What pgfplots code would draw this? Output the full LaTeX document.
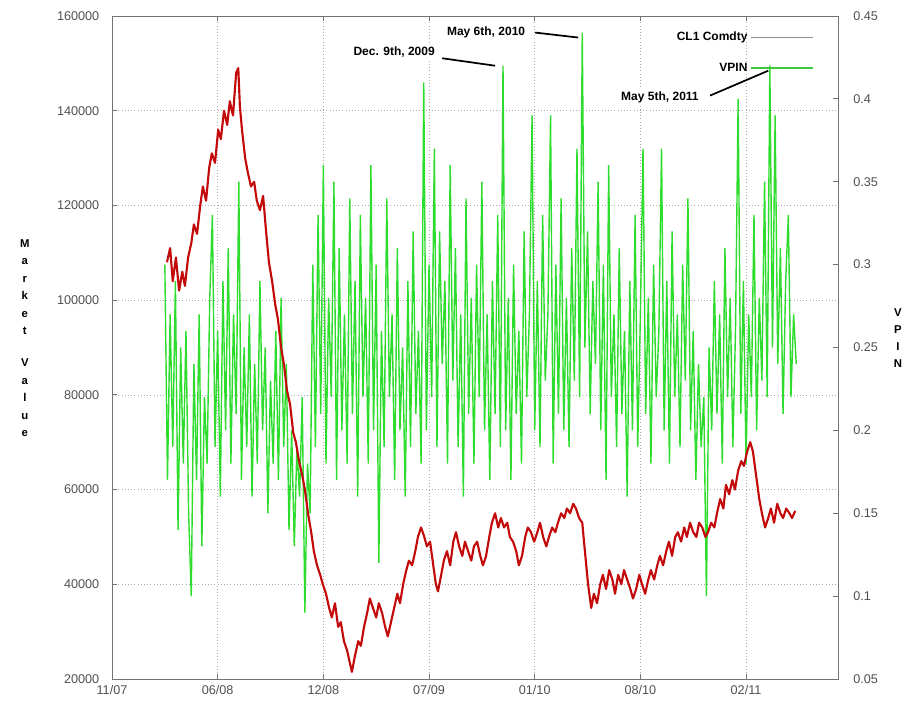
\documentclass[border=0pt]{standalone}
\usepackage{pgfplots}
\pgfplotsset{compat=1.18}
\usepackage{fontspec}
\setmainfont{Liberation Sans}
\definecolor{vpin}{RGB}{45,220,45}
\definecolor{cl}{RGB}{195,10,10}
\definecolor{tk}{RGB}{80,80,80}
\definecolor{gridc}{RGB}{170,170,170}
\begin{document}
\begin{tikzpicture}
\path[use as bounding box] (-84pt,-21.75pt) rectangle (602.25pt,509.25pt);
% ---------- axis A: frame, grid, left axis ----------
\begin{axis}[
  at={(0,0)}, anchor=south west, scale only axis,
  width=544.5pt, height=497.25pt,
  xmin=0, xmax=1374, ymin=20000, ymax=160000,
  xtick={0,200,400,600,800,1000,1200},
  xticklabels={11/07,06/08,12/08,07/09,01/10,08/10,02/11},
  ytick={20000,40000,60000,80000,100000,120000,140000,160000},
  scaled y ticks=false,
  yticklabels={20000,40000,60000,80000,100000,120000,140000,160000},
  ytick pos=left, xtick pos=both,
  tick align=inside, major tick length=4pt,
  grid=major, grid style={gridc, dotted, line width=0.5pt},
  axis line style={black!55, line width=0.6pt},
  tick style={black!55, line width=0.6pt},
  /pgf/number format/assume math mode=true,
  ticklabel style={font=\fontsize{9.5}{11}\selectfont, text=tk},
  yticklabel style={xshift=-6pt},
  xticklabel style={yshift=-1pt},
  ylabel={M\\a\\r\\k\\e\\t\\[11pt]V\\a\\l\\u\\e},
  every axis y label/.style={at={(axis description cs:-0.12,0.514)}, anchor=center, align=center, font=\bfseries\fontsize{8.5}{13.1}\selectfont},
]
\end{axis}
% ---------- axis B: VPIN, right axis ----------
\begin{axis}[
  at={(0,0)}, anchor=south west, scale only axis,
  width=544.5pt, height=497.25pt,
  xmin=0, xmax=1374, ymin=0.05, ymax=0.45,
  axis x line=none, axis y line*=right,
  ytick={0.05,0.1,0.15,0.2,0.25,0.3,0.35,0.4,0.45},
  yticklabels={0.05,0.1,0.15,0.2,0.25,0.3,0.35,0.4,0.45},
  tick align=inside, major tick length=4pt,
  axis line style={black!55, line width=0.6pt},
  tick style={black!55, line width=0.6pt},
  ticklabel style={font=\fontsize{9.5}{11}\selectfont, text=tk},
  yticklabel style={xshift=8pt},
  ylabel={V\\P\\I\\N},
  every axis y label/.style={at={(axis description cs:1.0826,0.514)}, anchor=center, align=center, font=\bfseries\fontsize{8.5}{12.75}\selectfont},
]
\addplot[vpin, line width=1.05pt, line join=bevel] coordinates {
(100,0.30)(105,0.17)(110,0.27)(115,0.19)(120,0.29)(125,0.14)(130,0.25)(135,0.18)(140,0.26)(145,0.15)(150,0.10)
(155,0.24)(160,0.17)(165,0.27)(170,0.13)(175,0.22)(180,0.18)(185,0.28)(190,0.33)(195,0.19)(200,0.26)
(205,0.16)(210,0.29)(215,0.20)(220,0.31)(225,0.18)(230,0.27)(235,0.21)(240,0.35)(245,0.17)(250,0.25)
(255,0.19)(260,0.27)(265,0.16)(270,0.24)(275,0.18)(280,0.29)(285,0.20)(290,0.25)(295,0.15)(300,0.23)
(305,0.18)(310,0.26)(315,0.17)(320,0.28)(325,0.19)(330,0.24)(335,0.14)
(340,0.20)(345,0.13)(350,0.19)(355,0.16)(360,0.22)(365,0.09)(370,0.18)(375,0.15)
(380,0.30)(385,0.19)(390,0.33)(395,0.21)(400,0.36)(405,0.18)(410,0.28)(415,0.22)(420,0.35)(425,0.17)
(430,0.31)(435,0.20)(440,0.27)(445,0.18)(450,0.34)(455,0.21)(460,0.29)(465,0.16)(470,0.33)(475,0.22)
(480,0.28)(485,0.18)(490,0.36)(495,0.20)(500,0.30)(505,0.12)(510,0.26)(515,0.19)(520,0.34)(525,0.22)
(530,0.27)(535,0.17)(540,0.31)(545,0.20)(550,0.25)(555,0.16)(560,0.29)(565,0.19)(570,0.32)(575,0.21)
(580,0.26)(585,0.18)(590,0.41)(595,0.20)(600,0.30)(605,0.22)(610,0.37)(615,0.19)(620,0.32)(625,0.24)
(630,0.29)(635,0.18)(640,0.36)(645,0.23)(650,0.31)(655,0.19)(660,0.27)(665,0.16)(670,0.34)(675,0.21)
(680,0.28)(685,0.18)(690,0.30)(695,0.22)(700,0.35)(705,0.20)(710,0.27)(715,0.17)(720,0.29)(725,0.21)
(730,0.33)(735,0.19)(740,0.42)(745,0.20)(750,0.28)(755,0.17)(760,0.30)(765,0.21)(770,0.26)(775,0.18)
(780,0.32)(785,0.22)(790,0.27)(795,0.39)(800,0.20)(805,0.29)(810,0.19)(815,0.33)(820,0.23)(825,0.27)
(830,0.39)(835,0.18)(840,0.30)(845,0.21)(850,0.34)(855,0.20)(860,0.28)(865,0.19)(870,0.31)(875,0.23)
(880,0.37)(885,0.22)(890,0.44)(895,0.25)(900,0.32)(905,0.21)(910,0.29)(915,0.24)(920,0.35)(925,0.20)
(930,0.30)(935,0.17)(940,0.36)(945,0.22)(950,0.27)(955,0.19)(960,0.31)(965,0.21)(970,0.26)(975,0.16)
(980,0.29)(985,0.20)(990,0.33)(995,0.19)(1000,0.27)(1005,0.37)(1010,0.21)(1015,0.28)(1020,0.18)(1025,0.30)
(1030,0.22)(1035,0.26)(1040,0.37)(1045,0.20)(1050,0.29)(1055,0.18)(1060,0.32)(1065,0.22)(1070,0.27)(1075,0.19)
(1080,0.30)(1085,0.23)(1090,0.34)(1095,0.20)(1100,0.26)(1105,0.17)(1110,0.24)(1115,0.19)(1120,0.22)(1125,0.10)
(1130,0.25)(1135,0.20)(1140,0.29)(1145,0.21)(1150,0.27)(1155,0.18)(1160,0.31)(1165,0.22)(1170,0.28)(1175,0.19)
(1180,0.26)(1185,0.40)(1190,0.21)(1195,0.29)(1200,0.18)(1205,0.27)(1210,0.22)(1215,0.33)(1220,0.20)(1225,0.28)
(1230,0.23)(1235,0.35)(1240,0.22)(1245,0.42)(1250,0.25)(1255,0.39)(1260,0.24)(1265,0.31)(1270,0.21)(1275,0.29)
(1280,0.33)(1285,0.22)(1290,0.27)(1295,0.24)
};
% annotations
\tikzset{ann/.style={font=\bfseries\fontsize{9}{10}\selectfont, fill=white, inner sep=1.5pt}}
\node[ann] at (axis cs:534,0.428) {Dec. 9th, 2009};
\draw[black, line width=1.3pt] (axis cs:625,0.4245) -- (axis cs:725,0.420);
\node[ann] at (axis cs:708,0.440) {May 6th, 2010};
\draw[black, line width=1.3pt] (axis cs:801,0.440) -- (axis cs:882,0.437);
\node[ann] at (axis cs:1037,0.401) {May 5th, 2011};
\draw[black, line width=1.3pt] (axis cs:1132,0.402) -- (axis cs:1242,0.417);
\end{axis}
% ---------- axis C: CL1 Comdty on top ----------
\begin{axis}[
  at={(0,0)}, anchor=south west, scale only axis,
  width=544.5pt, height=497.25pt,
  xmin=0, xmax=1374, ymin=20000, ymax=160000,
  axis lines=none,
  legend plot pos=right,
  legend image code/.code={\draw[#1] (0pt,0pt) -- (47pt,0pt);},
  legend style={at={(rel axis cs:0.969,0.982)}, anchor=north east, draw=none, fill=none,
    font=\bfseries\fontsize{9}{10}\selectfont, row sep=11pt, inner sep=1pt,
    cells={anchor=east}},
]
\addplot[cl, line width=1.6pt, line join=round, forget plot] coordinates {
(104,108000)(110,111000)(115,104000)(121,109000)(127,102000)(133,106000)(138,103000)(144,109000)(150,112000)(155,116000)
(161,114000)(167,120000)(172,124000)(178,121000)(184,128000)(189,131000)(195,129000)(201,136000)(206,134000)(212,140000)
(218,137000)(223,142000)(229,139000)(235,148000)(239,149000)(242,141000)(246,136000)(252,130000)(257,127000)(263,124000)
(269,125000)(274,121000)(280,119000)(286,122000)(292,114000)(297,108000)(303,104000)(309,99000)(314,96000)(320,90000)
(326,86000)(331,81000)(337,78000)(343,72000)(348,70000)(354,66000)(360,63000)(365,60000)(371,55000)(377,51000)
(382,47000)(388,44000)(394,42000)(399,40000)(405,38000)(411,35000)(416,33000)(422,36000)(428,31000)(433,32000)
(439,28000)(445,26000)(451,23000)(454,21500)(460,25000)(466,28000)(471,27000)(477,31000)(483,34000)(488,37000)
(494,35000)(500,33000)(505,36000)(511,34000)(517,31000)(522,29000)(528,32000)(534,35000)(540,38000)(545,36000)
(551,40000)(557,43000)(562,45000)(568,44000)(574,47000)(579,50000)(585,52000)(591,50000)(596,48000)(602,49000)
(608,44000)(613,40000)(617,38500)(623,42000)(628,45000)(634,47000)(640,44000)(646,49000)(651,51000)(657,48000)
(663,46000)(668,49000)(674,47000)(680,45000)(685,48000)(691,49000)(697,46000)(702,44000)(708,46000)(714,50000)
(719,53000)(725,55000)(731,52000)(736,54000)(742,52000)(748,53000)(753,50000)(759,49000)(765,47000)(770,44000)
(776,46000)(782,50000)(787,52000)(793,51000)(799,49000)(805,51000)(810,53000)(816,50000)(822,48000)(827,50000)
(833,52000)(839,51000)(844,53000)(850,55000)(856,54000)(861,56000)(867,55000)(873,57000)(878,56000)(884,54000)
(890,53000)(895,47000)(901,40000)(907,35000)(912,38000)(918,36000)(924,40000)(929,42000)(935,39000)(941,43000)
(947,41000)(952,38000)(958,42000)(964,40000)(969,43000)(975,41000)(981,39000)(986,37000)(992,39000)(998,42000)
(1003,40000)(1009,38000)(1015,41000)(1020,43000)(1026,41000)(1032,44000)(1037,46000)(1043,44000)(1049,47000)(1054,49000)
(1060,46000)(1066,50000)(1071,51000)(1077,49000)(1083,52000)(1088,50000)(1094,53000)(1100,51000)(1106,50000)(1111,53000)
(1117,52000)(1123,50000)(1128,51000)(1134,53000)(1140,52000)(1145,55000)(1151,58000)(1157,56000)(1162,61000)(1168,59000)
(1174,62000)(1179,60000)(1185,64000)(1191,66000)(1196,65000)(1202,68000)(1208,70000)(1213,68000)(1219,63000)(1225,58000)
(1230,55000)(1236,52000)(1242,54000)(1247,56000)(1253,53000)(1259,57000)(1265,55000)(1270,54000)(1276,56000)(1282,55000)
(1287,54000)(1293,55500)
};
\addlegendimage{black!45, line width=0.8pt}
\addlegendentry{CL1 Comdty}
\addlegendimage{vpin!80!gray, line width=0.8pt}
\addlegendentry{VPIN}
\end{axis}
\end{tikzpicture}
\end{document}
